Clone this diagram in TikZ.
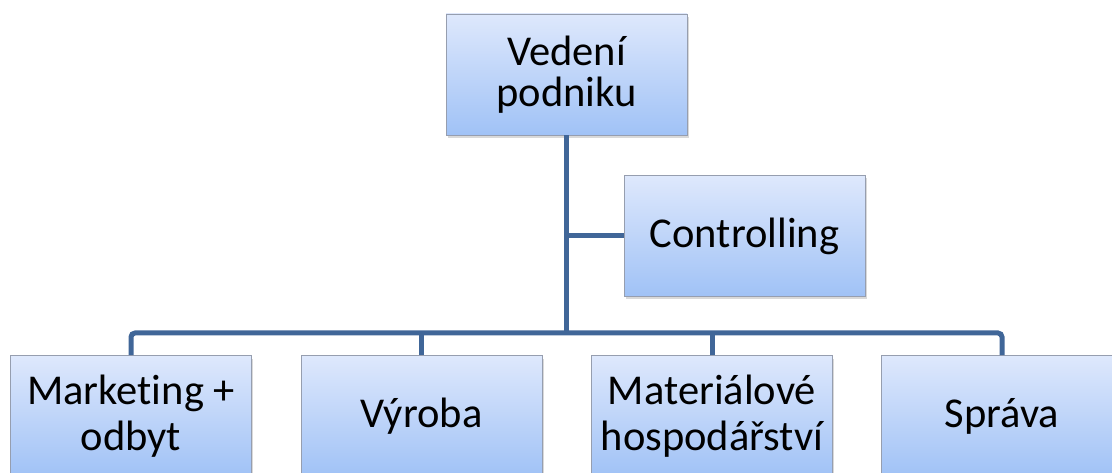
\documentclass[tikz,border=0pt]{standalone}
\usepackage{fontspec}
\setmainfont{Carlito}[Ligatures={NoCommon}]
\usetikzlibrary{shadows}
\definecolor{boxtop}{RGB}{222,232,252}
\definecolor{boxbot}{RGB}{160,194,246}
\definecolor{boxline}{RGB}{150,158,175}
\definecolor{conn}{RGB}{64,102,152}
\tikzset{
  orgbox/.style={draw=boxline, line width=0.8pt, top color=boxtop, bottom color=boxbot,
    minimum width=241pt, minimum height=121pt, inner sep=0pt, align=center,
    font=\fontsize{42.5}{46}\selectfont,
    drop shadow={opacity=0.3, shadow xshift=1.5pt, shadow yshift=-3pt}},
  tightbox/.style={orgbox, font=\fontsize{42.5}{41}\selectfont},
  link/.style={draw=conn, line width=5pt, rounded corners=4pt}
}
\begin{document}
\begin{tikzpicture}[x=1pt,y=-1pt]
\useasboundingbox (0,0) rectangle (1112,473);
\clip (0,0) rectangle (1112,473);
\node[tightbox] (top) at (566.5,74.5) {Vedení\\podniku};
\node[orgbox] (ctrl) at (744.5,236) {Controlling};
\node[orgbox] (b1) at (131,416) {Marketing +\\odbyt};
\node[orgbox] (b2) at (421.5,416) {Výroba};
\node[orgbox] (b3) at (712,416) {Materiálové\\hospodářství};
\node[orgbox] (b4) at (1002,416) {Správa};
\coordinate (bus) at (566.5,333);
\draw[link] (top.south) -- (top.south |- bus);
\draw[link] (top.south |- ctrl.west) -- (ctrl.west);
\draw[link] (b1.north) -- (b1.north |- bus) -- (b4.north |- bus) -- (b4.north);
\draw[link] (b2.north) -- (b2.north |- bus);
\draw[link] (b3.north) -- (b3.north |- bus);
\end{tikzpicture}
\end{document}
